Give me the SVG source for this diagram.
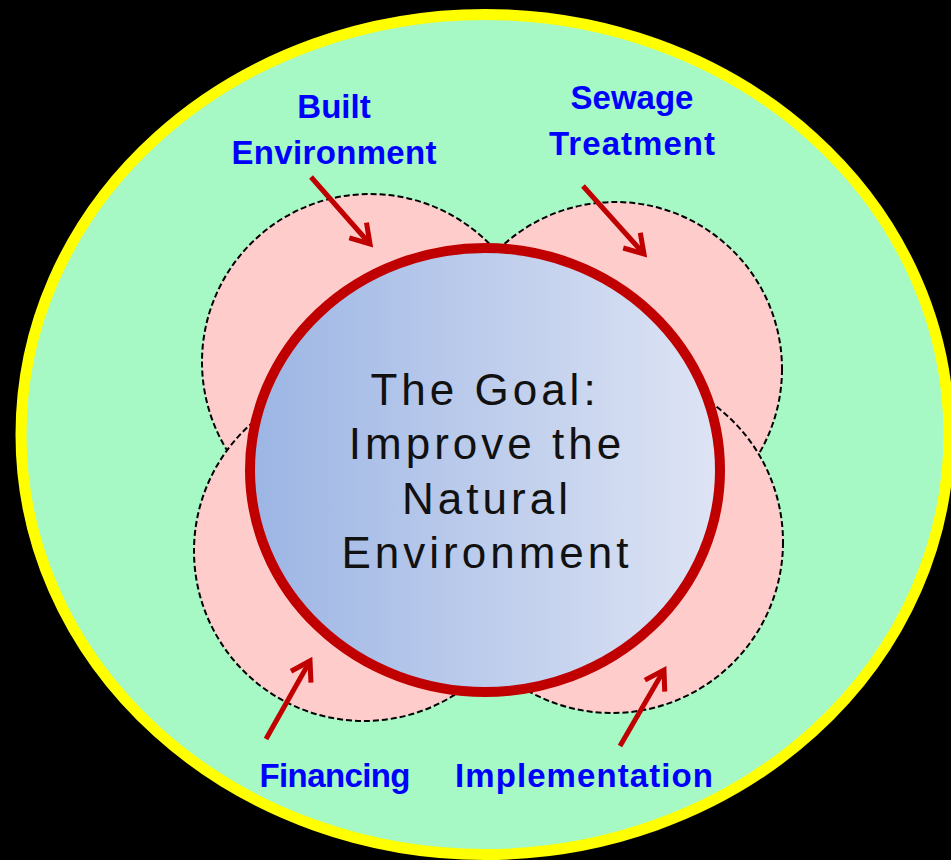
<svg xmlns="http://www.w3.org/2000/svg" width="951" height="860" viewBox="0 0 951 860">
<style>
.petal{fill:#FFCCCC;stroke:#000;stroke-width:2;stroke-dasharray:6 3}
.lbl{font-family:"Liberation Sans",Arial,sans-serif;font-weight:bold;font-size:33px;fill:#0000FF;text-anchor:middle}
.goal{font-family:"Liberation Sans",Arial,sans-serif;font-size:44px;letter-spacing:4px;fill:#111;text-anchor:middle}
.arr{stroke:#C00000;stroke-width:5;fill:none;marker-end:url(#head)}
</style>
<defs>
<linearGradient id="g" x1="0" y1="0" x2="1" y2="0">
<stop offset="0" stop-color="#9CB5E4"/>
<stop offset="1" stop-color="#DEE4F4"/>
</linearGradient>
<marker id="head" viewBox="0 0 12 12" refX="10" refY="6" markerWidth="5.5" markerHeight="5.5" orient="auto" markerUnits="strokeWidth">
<path d="M2,1 L10,6 L2,11" fill="none" stroke="#C00000" stroke-width="2.2"/>
</marker>
</defs>
<rect width="951" height="860" fill="#000"/>
<g id="outer">
<ellipse cx="485" cy="434.5" rx="464" ry="420" fill="#A6F8C4" stroke="#FFFF00" stroke-width="11"/>
</g>
<g id="petal-built"><circle class="petal" cx="370" cy="362" r="168"/></g>
<g id="petal-sewage"><circle class="petal" cx="615" cy="369" r="167"/></g>
<g id="petal-financing"><circle class="petal" cx="364" cy="551" r="170"/></g>
<g id="petal-implementation"><circle class="petal" cx="612" cy="542" r="171"/></g>
<g id="goal">
<ellipse cx="485" cy="470" rx="235" ry="222" fill="url(#g)" stroke="#C00000" stroke-width="10"/>
<text class="goal" x="485" y="405">The Goal:</text>
<text class="goal" x="487" y="459">Improve the</text>
<text class="goal" x="487" y="514">Natural</text>
<text class="goal" x="487" y="568">Environment</text>
</g>
<g id="connectors">
<line class="arr" x1="311" y1="177" x2="370" y2="244"/>
<line class="arr" x1="583" y1="186" x2="644" y2="254"/>
<line class="arr" x1="266" y1="739" x2="310" y2="661"/>
<line class="arr" x1="620" y1="746" x2="664" y2="670"/>
</g>
<g id="label-built">
<text class="lbl" x="334" y="118">Built</text>
<text class="lbl" x="334" y="164" textLength="205">Environment</text>
</g>
<g id="label-sewage">
<text class="lbl" x="632" y="109">Sewage</text>
<text class="lbl" x="632" y="155" textLength="166">Treatment</text>
</g>
<g id="label-financing">
<text class="lbl" x="335" y="787" textLength="151">Financing</text>
</g>
<g id="label-implementation">
<text class="lbl" x="584" y="787" textLength="258">Implementation</text>
</g>
</svg>
